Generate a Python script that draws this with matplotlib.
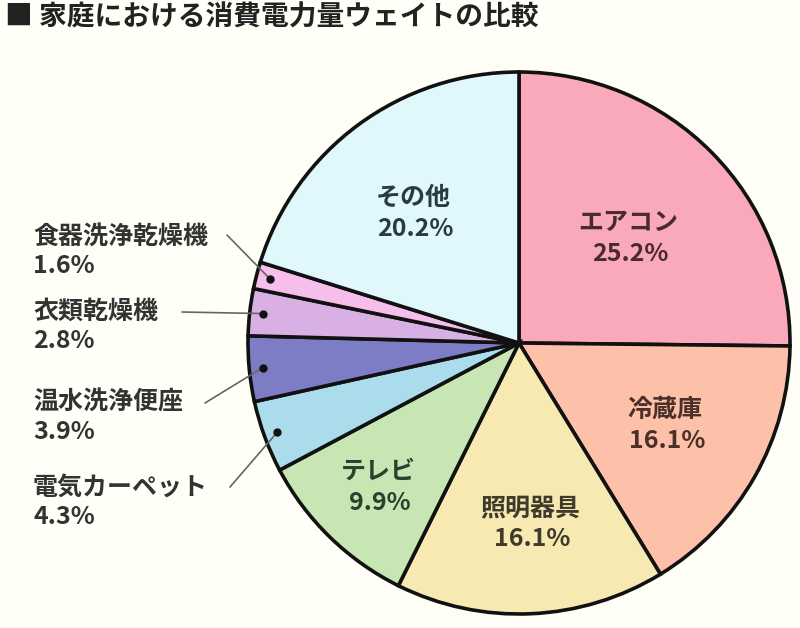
import numpy as np
import matplotlib
matplotlib.use("Agg")
import matplotlib.pyplot as plt

plt.rcParams["font.family"] = ["Noto Sans CJK JP", "DejaVu Sans"]

# データ
labels = ["エアコン", "冷蔵庫", "照明器具", "テレビ", "電気カーペット",
          "温水洗浄便座", "衣類乾燥機", "食器洗浄乾燥機", "その他"]
shares = [25.2, 16.1, 16.1, 9.9, 4.3, 3.9, 2.8, 1.6, 20.2]
colors = ["#F9A9BA", "#FDC0A9", "#F6E9B2", "#C8E6B3", "#AADCEB",
          "#7D7DC6", "#D9B0E4", "#F5BEEB", "#E0F8FC"]
text_colors = ["#4a2a32", "#4a3028", "#403a2a", "#2a4030", None,
               None, None, None, "#2a3a42"]

title = "■ 家庭における消費電力量ウェイトの比較"

W, H = 800, 628
bg = "#FFFFF8"

fig = plt.figure(figsize=(W / 100, H / 100), dpi=100, facecolor=bg)

def fpx(x, y):
    # 上からのピクセル座標 -> figure 比率
    return x / W, 1 - y / H

ax = fig.add_axes([248 / W, (H - 614) / H, 542 / W, 542 / H])
ax.set_facecolor(bg)
wedges, _ = ax.pie(shares, colors=colors, startangle=90, counterclock=False,
                   wedgeprops=dict(edgecolor="#111111", linewidth=2.6))
ax.set_xlim(-1.0, 1.0)
ax.set_ylim(-1.0, 1.0)
ax.axis("off")

# タイトル
fig.text(*fpx(5, 18), title, fontsize=20, fontweight="bold", color="#222222",
         ha="left", va="center")

fs = 18

# 円内ラベル
inner_pos = {0: (628, 223), 1: (665, 410), 2: (530, 508), 3: (378, 472), 8: (413, 198)}
for i, (x, y) in inner_pos.items():
    fig.text(*fpx(x, y), labels[i], fontsize=fs, fontweight="bold",
             color=text_colors[i], ha="center", va="center")
    fig.text(*fpx(x + 2, y + 31), f"{shares[i]}%", fontsize=fs, fontweight="bold",
             color=text_colors[i], ha="center", va="center")

# 円外ラベル（引き出し線つき）
outer = {7: (237, (227, 235)), 6: (312, (182, 312)),
         5: (403, (205, 403)), 4: (488, (230, 487))}
cum = np.cumsum([0] + shares)
total = cum[-1]
for i, (y, (lx, ly)) in outer.items():
    fig.text(*fpx(33, y), labels[i], fontsize=fs, fontweight="bold",
             color="#333333", ha="left", va="center")
    fig.text(*fpx(33, y + 29), f"{shares[i]}%", fontsize=fs, fontweight="bold",
             color="#333333", ha="left", va="center")
    mid = (cum[i] + cum[i + 1]) / 2 / total
    ang = np.deg2rad(90 - mid * 360)
    dot = (0.95 * np.cos(ang), 0.95 * np.sin(ang))
    ax.annotate("", xy=dot, xytext=(lx, H - ly), textcoords="figure pixels",
                arrowprops=dict(arrowstyle="-", color="#666666", lw=1.2,
                                shrinkA=0, shrinkB=0))
    ax.plot(*dot, "o", color="#111111", markersize=5, zorder=5)

fig.savefig("out.png", dpi=100, facecolor=bg)
